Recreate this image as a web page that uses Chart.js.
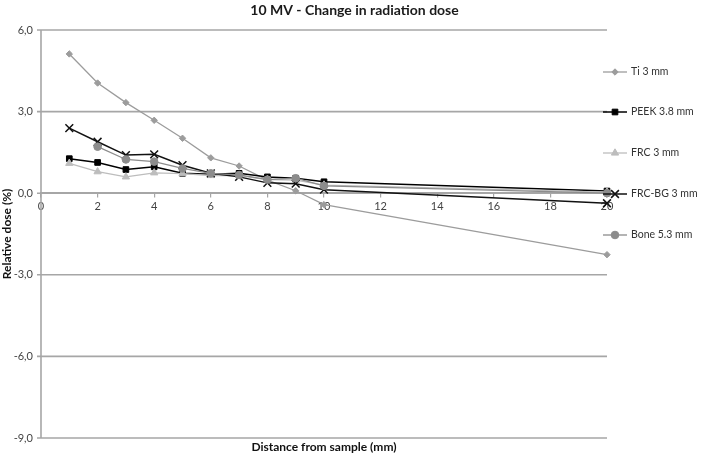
<!DOCTYPE html>
<html>
<head>
<meta charset="utf-8">
<style>
  html, body { margin: 0; padding: 0; background: #fff; }
  #wrap { width: 709px; height: 454px; position: relative; }
</style>
<script src="https://cdn.jsdelivr.net/npm/chart.js@4.4.1/dist/chart.umd.min.js"></script>
</head>
<body>
<div id="wrap"><canvas id="c" width="709" height="454"></canvas></div>
<script>
const distances = [1, 2, 3, 4, 5, 6, 7, 8, 9, 10, 20];
const seriesNames = ['Ti 3 mm', 'PEEK 3.8 mm', 'FRC 3 mm', 'FRC-BG 3 mm', 'Bone 5.3 mm'];
const ti3    = [5.12, 4.05, 3.33, 2.68, 2.02, 1.30, 1.00, 0.48, 0.09, -0.42, -2.26];
const peek38 = [1.27, 1.13, 0.87, 0.97, 0.73, 0.70, 0.73, 0.60, 0.55, 0.42, 0.08];
const frc3   = [1.10, 0.79, 0.60, 0.75, 0.72, 0.65, 0.65, 0.50, 0.48, 0.30, 0.04];
const frcbg3 = [2.39, 1.89, 1.40, 1.43, 1.03, 0.73, 0.60, 0.38, 0.35, 0.13, -0.37];
const bone53 = [null, 1.71, 1.24, 1.16, 0.91, 0.73, 0.67, 0.50, 0.55, 0.27, 0.00];
const yTicks = [-9, -6, -3, 0, 3, 6];
const xTicks = [0, 2, 4, 6, 8, 10, 12, 14, 16, 18, 20];
const chartTitle = '10 MV - Change in radiation dose';
const xTitle = 'Distance from sample (mm)';
const yTitle = 'Relative dose (%)';

const toPoints = arr => distances.map((d, i) => ({ x: d, y: arr[i] }));

const styles = [
  { color: '#9c9c9c', point: 'rectRot', radius: 3.2, width: 1.3, order: 5 },
  { color: '#000000', point: 'rect', radius: 4, width: 1.5, order: 4 },
  { color: '#bdbdbd', point: 'triangle', radius: 4.2, width: 1.3, order: 3 },
  { color: '#111111', point: 'crossRot', radius: 5.5, width: 1.5, order: 2 },
  { color: '#8c8c8c', point: 'circle', radius: 3.8, width: 1.3, order: 1 }
];
const seriesData = [ti3, peek38, frc3, frcbg3, bone53];

const datasets = seriesData.map((arr, i) => ({
  label: seriesNames[i],
  data: toPoints(arr),
  borderColor: styles[i].color,
  backgroundColor: styles[i].color,
  borderWidth: styles[i].width,
  pointStyle: styles[i].point,
  pointRadius: styles[i].radius,
  pointBorderWidth: styles[i].point === 'crossRot' ? 1.5 : 1,
  pointBorderColor: styles[i].color,
  pointBackgroundColor: styles[i].color,
  order: styles[i].order,
  spanGaps: false,
  clip: false,
  tension: 0
}));

const fmt = v => Number(v).toFixed(1).replace('.', ',');

const gridPlugin = {
  id: 'hgrid',
  beforeDatasetsDraw(chart) {
    const ctx = chart.ctx;
    const area = chart.chartArea;
    const ys = chart.scales.y;
    ctx.save();
    ctx.setLineDash([]);
    ctx.globalAlpha = 1;
    ctx.strokeStyle = '#a6a6a6';
    ctx.lineWidth = 1.6;
    yTicks.forEach(v => {
      const py = ys.getPixelForValue(v);
      ctx.beginPath();
      ctx.moveTo(area.left - 4, py);
      ctx.lineTo(area.right, py);
      ctx.stroke();
    });
    ctx.beginPath();
    ctx.moveTo(area.left, area.top);
    ctx.lineTo(area.left, area.bottom);
    ctx.stroke();
    ctx.restore();
  }
};

const customPlugin = {
  id: 'custom',
  afterDraw(chart) {
    const ctx = chart.ctx;
    const area = chart.chartArea;
    ctx.save();
    ctx.textBaseline = 'middle';
    // chart title
    ctx.fillStyle = '#1a1a1a';
    ctx.font = 'bold 14px Lato';
    ctx.textAlign = 'center';
    ctx.fillText(chartTitle, chart.width / 2, 10);
    // x axis title
    ctx.fillStyle = '#111';
    ctx.font = 'bold 12px Lato';
    ctx.fillText(xTitle, (area.left + area.right) / 2, 447);
    // legend
    const ys = [72, 112, 153, 194, 235];
    ctx.font = '10.5px Lato';
    ctx.textAlign = 'left';
    chart.data.datasets.forEach((ds, i) => {
      const y = ys[i];
      ctx.strokeStyle = ds.borderColor;
      ctx.lineWidth = ds.borderWidth;
      ctx.beginPath();
      ctx.moveTo(603, y);
      ctx.lineTo(627, y);
      ctx.stroke();
      ctx.fillStyle = ds.pointBackgroundColor;
      ctx.strokeStyle = ds.pointBorderColor;
      ctx.lineWidth = ds.pointBorderWidth;
      Chart.helpers.drawPoint(ctx, {
        pointStyle: ds.pointStyle,
        radius: ds.pointRadius,
        rotation: 0,
        borderWidth: ds.pointBorderWidth
      }, 615, y);
      ctx.fillStyle = '#333';
      ctx.fillText(ds.label, 631, y);
    });
    ctx.restore();
  }
};

new Chart(document.getElementById('c'), {
  type: 'line',
  data: { datasets },
  plugins: [gridPlugin, customPlugin],
  options: {
    responsive: false,
    animation: false,
    devicePixelRatio: 1,
    layout: { padding: { top: 30, right: 102, bottom: 16, left: 0 } },
    plugins: {
      legend: { display: false },
      tooltip: { enabled: false },
      title: { display: false }
    },
    scales: {
      x: {
        type: 'linear',
        position: { y: 0 },
        min: 0,
        max: 20,
        afterBuildTicks: s => { s.ticks = xTicks.map(v => ({ value: v })); },
        ticks: {
          color: '#444',
          font: { family: 'Lato', size: 11 },
          padding: 3,
          maxRotation: 0,
          callback: v => String(v)
        },
        grid: {
          display: true,
          drawOnChartArea: false,
          drawTicks: true,
          tickLength: 4,
          color: '#a6a6a6',
          lineWidth: 1.2
        },
        border: { display: true, color: '#a6a6a6', width: 1.6 }
      },
      y: {
        type: 'linear',
        min: -9,
        max: 6,
        afterBuildTicks: s => { s.ticks = yTicks.map(v => ({ value: v })); },
        afterFit: s => { s.width = 41; },
        ticks: {
          color: '#444',
          font: { family: 'Lato', size: 11 },
          padding: 0,
          callback: v => fmt(v)
        },
        grid: { display: false },
        border: { display: false },
        title: {
          display: true,
          text: yTitle,
          color: '#111',
          font: { family: 'Lato', size: 12, weight: 'bold', lineHeight: 1.2 },
          padding: { top: 0, bottom: 0 }
        }
      }
    }
  }
});
</script>
</body>
</html>
